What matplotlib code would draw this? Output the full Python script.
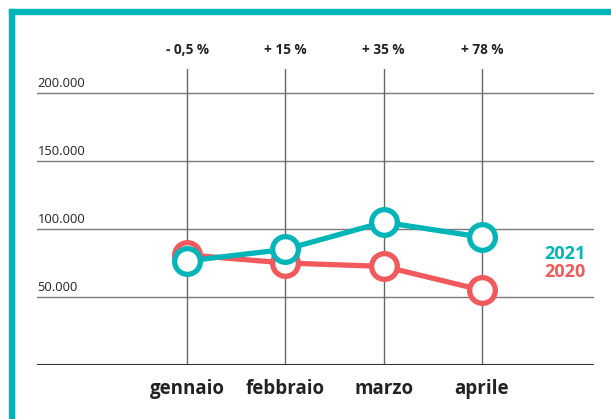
import matplotlib.pyplot as plt
from matplotlib.patches import Rectangle
from matplotlib.transforms import blended_transform_factory

months = ["gennaio", "febbraio", "marzo", "aprile"]
changes = ["- 0,5 %", "+ 15 %", "+ 35 %", "+ 78 %"]
values_2020 = [81000, 75000, 72500, 55000]
values_2021 = [76500, 85000, 105000, 94000]
yticks = [50000, 100000, 150000, 200000]
ytick_labels = ["50.000", "100.000", "150.000", "200.000"]

teal = "#00b5b8"
red = "#f05a5c"
grid = "#7a7a7a"

plt.rcParams["font.family"] = ["Open Sans", "DejaVu Sans"]

W, H = 611, 419
fig = plt.figure(figsize=(W / 100, H / 100), dpi=100)

# axes placed in pixel terms
left, right, bottom, top = 37, 594, 365, 69
ax = fig.add_axes([left / W, (H - bottom) / H, (right - left) / W, (bottom - top) / H])
ax.set_xlim(-1.526, 4.14)
ax.set_ylim(0, (bottom - top) / 1.36 * 1000)
ax.axis("off")

# horizontal grid with labels
for v, lab in zip(yticks, ytick_labels):
    ax.axhline(v, color=grid, lw=1, zorder=1)
    ax.text(-1.52, v + 2000, lab, fontsize=9.3, color="#222222", ha="left", va="bottom")

# vertical lines per month
for i in range(len(months)):
    ax.axvline(i, color="#666666", lw=1, zorder=1)

ax.axhline(0, color="#333333", lw=2.2, zorder=2)

x = list(range(len(months)))
ax.plot(x, values_2020, color=red, lw=3.8, marker="o", ms=18.5, mew=3.8,
        mfc="white", mec=red, zorder=3)
ax.plot(x, values_2021, color=teal, lw=3.8, marker="o", ms=18.5, mew=3.8,
        mfc="white", mec=teal, zorder=4)

trans = blended_transform_factory(ax.transData, ax.transAxes)
for i, (m, c) in enumerate(zip(months, changes)):
    ax.text(i, 1.064, c, transform=trans, ha="center", va="center",
            fontsize=9.8, fontweight="bold", color="#222222")
    ax.text(i, -0.081, m, transform=trans, ha="center", va="center",
            fontsize=13.5, fontweight="bold", color="#222222")

fig.text(544 / W, 1 - 254 / H, "2021", color=teal, fontsize=13, fontweight="bold",
         ha="left", va="center")
fig.text(544 / W, 1 - 272 / H, "2020", color=red, fontsize=13, fontweight="bold",
         ha="left", va="center")

# teal frame
fig.patches.append(Rectangle((9 / W, 0), 5 / W, (H - 9) / H, transform=fig.transFigure,
                             color=teal, zorder=0))
fig.patches.append(Rectangle((9 / W, (H - 14) / H), 1, 5 / H, transform=fig.transFigure,
                             color=teal, zorder=0))

fig.savefig("out.png", dpi=100)
